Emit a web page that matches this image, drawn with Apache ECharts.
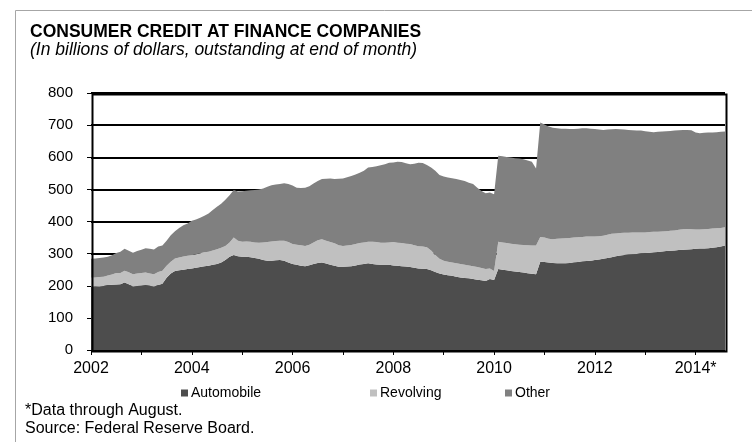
<!DOCTYPE html>
<html>
<head>
<meta charset="utf-8">
<script src="https://cdn.jsdelivr.net/npm/echarts@6/dist/echarts.min.js"></script>
<style>
html,body{margin:0;padding:0;background:#fff;}
#chart{width:752px;height:442px;}
</style>
</head>
<body>
<div id="chart"></div>
<script>
// Monthly data, January 2002 through August 2014 (billions of dollars)
var startYear = 2002;
var seriesNames = ['Automobile', 'Revolving', 'Other'];
var yTicks = [0, 100, 200, 300, 400, 500, 600, 700, 800];
var xTickYears = ['2002', '2004', '2006', '2008', '2010', '2012', '2014'];
var xTickLabels = ['2002', '2004', '2006', '2008', '2010', '2012', '2014*'];

var automobile = [
197,198,197,199,202,203,204,205,210,205,197,199,
200,202,200,197,202,206,225,238,246,248,250,252,
254,256,258,261,262,265,268,272,280,290,296,292,
290,290,289,286,284,280,278,278,279,280,278,272,
268,265,262,261,264,268,271,272,269,265,262,259,
259,260,261,263,266,268,270,268,266,265,265,265,
263,262,261,260,258,256,254,253,252,248,243,238,
235,233,231,228,226,224,223,221,219,217,215,221,
218,252,250,248,246,244,243,241,239,237,236,275,
274,272,271,270,270,270,271,273,274,276,277,278,
280,282,284,286,289,292,294,296,297,298,299,301,
302,303,304,305,307,308,309,310,311,312,313,314,
315,316,316,317,318,320,322,325];

var revolving = [
28,28,30,29,30,32,36,35,37,37,39,39,
40,39,38,39,41,41,37,37,39,40,41,41,
41,42,43,43,44,45,46,46,44,45,54,48,
47,48,48,49,50,55,58,60,60,60,62,64,
62,63,64,63,64,67,71,73,71,71,70,67,
65,65,66,67,67,67,67,69,70,69,69,70,
73,72,72,71,72,70,69,69,68,62,53,46,
43,42,41,42,42,41,40,40,39,38,37,33,
28,85,85,85,85,85,85,86,87,88,89,77,
76,74,74,76,77,78,78,77,77,76,76,75,
73,72,72,73,73,71,70,69,68,68,67,65,
64,64,64,63,62,62,62,62,63,64,64,62,
60,59,60,60,60,59,58,57];

var other = [
59,59,59,60,58,60,62,66,68,67,67,70,
72,76,77,77,79,78,78,82,85,92,97,101,
107,108,111,114,119,126,132,137,144,147,148,153,
157,158,160,163,166,168,172,175,176,177,179,181,
182,177,178,181,182,183,184,187,193,198,200,207,
210,213,215,216,219,223,231,233,236,241,244,248,
248,252,252,250,248,254,260,260,256,258,262,261,
262,262,263,262,261,261,258,256,247,240,236,236,
239,268,268,268,268,268,268,267,264,261,240,356,
352,350,347,344,342,341,339,338,338,338,337,336,
335,332,329,327,325,325,323,321,320,318,317,317,
315,312,310,311,311,311,311,311,310,309,308,308,
302,300,300,300,299,299,299,298];

// month categories: "YYYY-MM"
var months = automobile.map(function (_, i) {
  var y = startYear + Math.floor(i / 12);
  var m = (i % 12) + 1;
  return y + '-' + (m < 10 ? '0' + m : m);
});

var colors = ['#4d4d4d', '#c0c0c0', '#808080'];
var FONT = '"Liberation Sans", Arial, Helvetica, sans-serif';

var chart = echarts.init(document.getElementById('chart'), null, {renderer: 'canvas'});

var gridL = 91, gridT = 93, gridR = 27, gridB = 92;

function mkSeries(name, arr, idx) {
  return {
    name: name,
    type: 'line',
    stack: 'total',
    data: arr,
    symbol: 'none',
    showSymbol: false,
    lineStyle: {width: 0},
    areaStyle: {color: colors[idx], opacity: 1},
    itemStyle: {color: colors[idx]},
    emphasis: {disabled: true},
    animation: false
  };
}

function mkLegend(name, left) {
  return {
    data: [{name: name, icon: 'rect'}],
    left: left,
    top: 386,
    itemWidth: 7,
    itemHeight: 7,
    padding: 0,
    textStyle: {fontFamily: FONT, fontSize: 14, color: '#000', padding: [0, 0, 0, -2]},
    selectedMode: false
  };
}

var option = {
  animation: false,
  color: colors,
  textStyle: {fontFamily: FONT},
  title: [
    {
      text: 'CONSUMER CREDIT AT FINANCE COMPANIES',
      left: 30, top: 23,
      padding: 0,
      textStyle: {fontFamily: FONT, fontSize: 17.5, fontWeight: 'bold', color: '#000'}
    },
    {
      text: '(In billions of dollars, outstanding at end of month)',
      left: 30, top: 41,
      padding: 0,
      textStyle: {fontFamily: FONT, fontSize: 17.5, fontStyle: 'italic', fontWeight: 'normal', color: '#000'}
    },
    {
      text: '*Data through August.\nSource: Federal Reserve Board.',
      left: 25, top: 401,
      padding: 0,
      textStyle: {fontFamily: FONT, fontSize: 16, fontWeight: 'normal', color: '#000', lineHeight: 18.7}
    }
  ],
  legend: [
    mkLegend(seriesNames[0], 181),
    mkLegend(seriesNames[1], 370),
    mkLegend(seriesNames[2], 505)
  ],
  grid: {left: gridL, top: gridT, right: gridR, bottom: gridB, containLabel: false},
  xAxis: {
    type: 'category',
    data: months,
    boundaryGap: false,
    axisLine: {show: false},
    axisTick: {
      show: true, length: 5,
      interval: function (index) { return index % 12 === 0; },
      lineStyle: {color: '#000', width: 1}
    },
    splitLine: {show: false},
    axisLabel: {
      fontFamily: FONT, fontSize: 16, color: '#000', margin: 11,
      interval: function (index, value) {
        return xTickYears.indexOf(value.slice(0, 4)) >= 0 && value.slice(5) === '01';
      },
      formatter: function (value) {
        var k = xTickYears.indexOf(value.slice(0, 4));
        return k >= 0 ? xTickLabels[k] : '';
      }
    }
  },
  yAxis: {
    type: 'value',
    min: yTicks[0],
    max: yTicks[yTicks.length - 1],
    interval: yTicks[1] - yTicks[0],
    axisLine: {show: false},
    axisTick: {show: true, length: 4, lineStyle: {color: '#000', width: 1}},
    splitLine: {show: true, lineStyle: {color: '#000', width: 2}},
    axisLabel: {fontFamily: FONT, fontSize: 15, color: '#000', margin: 18}
  },
  graphic: [
    {
      type: 'rect',
      left: 13, top: 8,
      shape: {x: 0, y: 0, width: 760, height: 450},
      style: {fill: 'none', stroke: '#a6a6a6', lineWidth: 1},
      z: 0, silent: true
    },
    {
      type: 'rect',
      left: gridL - 1, top: gridT - 1,
      shape: {x: 0, y: 0, width: 752 - gridL - gridR, height: 442 - gridT - gridB},
      style: {fill: 'none', stroke: '#000', lineWidth: 2},
      z: 100, silent: true
    }
  ],
  series: [
    mkSeries(seriesNames[0], automobile, 0),
    mkSeries(seriesNames[1], revolving, 1),
    mkSeries(seriesNames[2], other, 2)
  ]
};
chart.setOption(option);
</script>
</body>
</html>
